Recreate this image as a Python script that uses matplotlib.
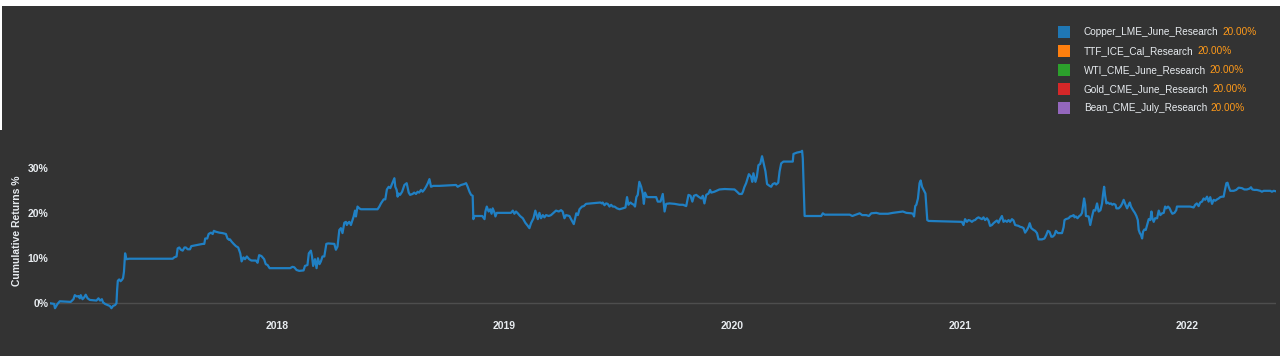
import matplotlib
matplotlib.use('Agg')
import matplotlib.pyplot as plt
import matplotlib.dates as mdates
from matplotlib.patches import Rectangle
import pandas as pd

# cumulative returns (x in decimal years, y in %)
years = [
    2017.001, 2017.019, 2017.023, 2017.034, 2017.044, 2017.092, 2017.104, 2017.110, 2017.119, 2017.126,
    2017.132, 2017.136, 2017.144, 2017.151, 2017.158, 2017.166, 2017.176, 2017.205, 2017.214, 2017.221,
    2017.229, 2017.234, 2017.243, 2017.254, 2017.264, 2017.271, 2017.278, 2017.287, 2017.293, 2017.296,
    2017.299, 2017.305, 2017.311, 2017.317, 2017.322, 2017.326, 2017.331, 2017.337, 2017.349, 2017.540,
    2017.547, 2017.557, 2017.562, 2017.569, 2017.576, 2017.584, 2017.592, 2017.598, 2017.606, 2017.616,
    2017.622, 2017.672, 2017.679, 2017.683, 2017.692, 2017.698, 2017.708, 2017.716, 2017.721, 2017.730,
    2017.745, 2017.759, 2017.774, 2017.781, 2017.788, 2017.792, 2017.799, 2017.808, 2017.818, 2017.828,
    2017.837, 2017.843, 2017.851, 2017.858, 2017.866, 2017.876, 2017.886, 2017.906, 2017.913, 2017.920,
    2017.930, 2017.942, 2017.949, 2017.957, 2017.966, 2018.057, 2018.067, 2018.075, 2018.085, 2018.097,
    2018.116, 2018.122, 2018.133, 2018.139, 2018.148, 2018.153, 2018.158, 2018.166, 2018.173, 2018.179,
    2018.186, 2018.192, 2018.199, 2018.207, 2018.216, 2018.224, 2018.251, 2018.258, 2018.265, 2018.273,
    2018.280, 2018.287, 2018.295, 2018.302, 2018.306, 2018.312, 2018.317, 2018.324, 2018.336, 2018.342,
    2018.346, 2018.353, 2018.361, 2018.368, 2018.441, 2018.449, 2018.456, 2018.468, 2018.475, 2018.482,
    2018.490, 2018.497, 2018.507, 2018.515, 2018.519, 2018.525, 2018.529, 2018.534, 2018.540, 2018.549,
    2018.559, 2018.569, 2018.578, 2018.584, 2018.595, 2018.602, 2018.610, 2018.617, 2018.624, 2018.632,
    2018.639, 2018.647, 2018.654, 2018.662, 2018.669, 2018.676, 2018.686, 2018.698, 2018.713, 2018.786,
    2018.793, 2018.808, 2018.822, 2018.830, 2018.837, 2018.845, 2018.852, 2018.859, 2018.862, 2018.867,
    2018.877, 2018.901, 2018.911, 2018.915, 2018.921, 2018.929, 2018.936, 2018.942, 2018.947, 2018.955,
    2018.959, 2018.965, 2019.028, 2019.036, 2019.043, 2019.050, 2019.058, 2019.068, 2019.080, 2019.091,
    2019.102, 2019.109, 2019.116, 2019.127, 2019.135, 2019.141, 2019.146, 2019.153, 2019.160, 2019.168,
    2019.175, 2019.182, 2019.194, 2019.204, 2019.215, 2019.226, 2019.238, 2019.248, 2019.255, 2019.263,
    2019.270, 2019.285, 2019.292, 2019.304, 2019.315, 2019.322, 2019.329, 2019.340, 2019.348, 2019.358,
    2019.380, 2019.421, 2019.427, 2019.431, 2019.439, 2019.446, 2019.453, 2019.461, 2019.468, 2019.475,
    2019.483, 2019.494, 2019.505, 2019.519, 2019.531, 2019.538, 2019.544, 2019.553, 2019.560, 2019.568,
    2019.573, 2019.579, 2019.585, 2019.592, 2019.600, 2019.607, 2019.612, 2019.617, 2019.626, 2019.644,
    2019.666, 2019.673, 2019.685, 2019.695, 2019.703, 2019.710, 2019.725, 2019.747, 2019.769, 2019.784,
    2019.798, 2019.808, 2019.817, 2019.825, 2019.832, 2019.842, 2019.852, 2019.864, 2019.871, 2019.878,
    2019.886, 2019.896, 2019.903, 2019.908, 2019.922, 2019.944, 2019.967, 2020.011, 2020.022, 2020.032,
    2020.043, 2020.048, 2020.054, 2020.062, 2020.074, 2020.084, 2020.089, 2020.094, 2020.103, 2020.109,
    2020.116, 2020.124, 2020.132, 2020.138, 2020.147, 2020.154, 2020.165, 2020.172, 2020.179, 2020.188,
    2020.194, 2020.203, 2020.209, 2020.216, 2020.226, 2020.267, 2020.270, 2020.285, 2020.304, 2020.308,
    2020.311, 2020.319, 2020.392, 2020.399, 2020.407, 2020.517, 2020.529, 2020.539, 2020.561, 2020.572,
    2020.590, 2020.601, 2020.612, 2020.634, 2020.649, 2020.685, 2020.707, 2020.751, 2020.766, 2020.788,
    2020.795, 2020.800, 2020.805, 2020.810, 2020.817, 2020.824, 2020.829, 2020.835, 2020.844, 2020.850,
    2020.858, 2020.864, 2021.008, 2021.015, 2021.022, 2021.030, 2021.037, 2021.044, 2021.052, 2021.059,
    2021.066, 2021.074, 2021.081, 2021.088, 2021.096, 2021.103, 2021.110, 2021.118, 2021.125, 2021.132,
    2021.140, 2021.147, 2021.154, 2021.162, 2021.169, 2021.176, 2021.184, 2021.191, 2021.198, 2021.206,
    2021.213, 2021.220, 2021.228, 2021.235, 2021.242, 2021.250, 2021.257, 2021.264, 2021.272, 2021.279,
    2021.286, 2021.294, 2021.301, 2021.306, 2021.313, 2021.323, 2021.330, 2021.338, 2021.345, 2021.360,
    2021.371, 2021.379, 2021.386, 2021.393, 2021.401, 2021.407, 2021.415, 2021.421, 2021.430, 2021.448,
    2021.455, 2021.459, 2021.465, 2021.477, 2021.484, 2021.492, 2021.499, 2021.503, 2021.509, 2021.516,
    2021.524, 2021.530, 2021.536, 2021.540, 2021.545, 2021.550, 2021.553, 2021.565, 2021.572, 2021.580,
    2021.587, 2021.594, 2021.602, 2021.609, 2021.617, 2021.624, 2021.628, 2021.633, 2021.637, 2021.643,
    2021.649, 2021.657, 2021.663, 2021.669, 2021.675, 2021.683, 2021.687, 2021.697, 2021.705, 2021.712,
    2021.719, 2021.727, 2021.734, 2021.741, 2021.746, 2021.751, 2021.760, 2021.768, 2021.775, 2021.781,
    2021.785, 2021.790, 2021.795, 2021.800, 2021.804, 2021.810, 2021.816, 2021.822, 2021.829, 2021.836,
    2021.841, 2021.845, 2021.851, 2021.857, 2021.866, 2021.873, 2021.880, 2021.888, 2021.895, 2021.901,
    2021.907, 2021.914, 2021.921, 2021.927, 2021.933, 2021.942, 2021.950, 2021.953, 2021.975, 2022.012,
    2022.027, 2022.034, 2022.041, 2022.049, 2022.056, 2022.064, 2022.071, 2022.078, 2022.086, 2022.093,
    2022.100, 2022.108, 2022.115, 2022.122, 2022.130, 2022.137, 2022.144, 2022.152, 2022.159, 2022.163,
    2022.171, 2022.176, 2022.181, 2022.188, 2022.203, 2022.214, 2022.225, 2022.239, 2022.250, 2022.261,
    2022.273, 2022.279, 2022.285, 2022.294, 2022.305, 2022.320, 2022.327, 2022.335, 2022.349, 2022.364,
    2022.371, 2022.379, 2022.389,
]
returns = [
    0.0, -0.15, -1.1, -0.15, 0.44, 0.3, 0.9, 1.8, 1.5, 1.6,
    1.1, 1.8, 0.9, 1.3, 1.9, 1.1, 0.74, 0.6, 1.1, 0.6,
    0.9, 0.2, -0.15, -0.4, -0.6, -1.1, -0.6, -0.4, 0.0, 3.0,
    5.0, 5.3, 4.9, 5.2, 5.6, 7.0, 11.1, 9.8, 9.9, 9.9,
    10.2, 10.4, 12.2, 12.4, 11.9, 11.7, 12.4, 12.4, 12.0, 12.0,
    12.7, 13.2, 13.2, 14.4, 14.4, 15.4, 15.7, 15.4, 16.1, 15.9,
    15.7, 15.6, 15.4, 14.4, 14.1, 14.2, 13.7, 13.2, 12.7, 12.4,
    11.1, 9.3, 10.2, 9.8, 10.4, 9.8, 9.5, 9.5, 9.0, 10.7,
    10.5, 9.8, 8.7, 8.5, 7.8, 7.8, 8.1, 8.0, 7.4, 7.2,
    7.3, 8.3, 8.5, 11.1, 11.7, 10.4, 8.3, 9.8, 7.8, 10.0,
    8.7, 9.3, 10.4, 10.4, 13.2, 13.3, 13.2, 11.9, 12.6, 16.3,
    16.7, 15.6, 17.9, 18.1, 17.4, 17.9, 18.1, 17.4, 19.3, 20.6,
    19.3, 21.5, 21.1, 20.9, 20.9, 21.5, 22.2, 23.1, 23.1, 25.3,
    25.9, 25.6, 26.8, 27.8, 25.9, 25.2, 23.7, 24.4, 24.1, 24.8,
    26.3, 26.7, 24.6, 24.1, 24.3, 24.6, 24.3, 24.8, 24.6, 25.2,
    24.8, 25.3, 25.9, 26.7, 27.6, 25.9, 26.1, 26.1, 26.1, 26.3,
    25.9, 26.3, 26.5, 26.7, 25.9, 24.8, 24.1, 23.9, 18.7, 19.4,
    19.4, 19.4, 18.7, 20.4, 21.5, 20.4, 20.9, 19.9, 21.1, 20.1,
    19.3, 20.1, 20.1, 20.6, 19.9, 20.4, 20.0, 19.4, 18.9, 17.9,
    17.2, 16.7, 17.8, 18.9, 20.6, 19.6, 18.7, 20.1, 18.9, 19.6,
    19.1, 19.6, 19.4, 19.6, 20.1, 20.6, 20.4, 20.7, 20.4, 18.9,
    19.6, 19.4, 18.7, 17.6, 20.0, 19.6, 20.9, 21.5, 21.6, 22.1,
    22.2, 22.4, 22.2, 22.4, 21.8, 22.2, 22.1, 21.5, 21.9, 21.5,
    21.5, 21.1, 20.9, 21.1, 21.3, 23.6, 21.9, 22.4, 22.1, 21.9,
    21.5, 23.6, 24.1, 27.0, 25.9, 24.4, 22.1, 24.6, 23.6, 23.6,
    23.6, 22.6, 22.6, 24.3, 20.4, 22.1, 22.2, 22.1, 21.9, 21.9,
    21.6, 24.1, 23.9, 22.6, 23.9, 24.1, 23.7, 23.3, 23.9, 22.2,
    24.1, 24.4, 25.2, 24.6, 24.8, 25.3, 25.4, 25.3, 24.8, 24.3,
    24.3, 24.8, 25.8, 26.7, 28.7, 28.1, 27.0, 28.9, 27.0, 28.1,
    30.7, 31.0, 32.7, 31.3, 29.3, 26.5, 26.1, 25.9, 26.5, 26.7,
    26.4, 26.8, 29.3, 31.1, 31.5, 31.5, 33.2, 33.5, 33.7, 33.9,
    32.2, 19.4, 19.4, 20.0, 19.7, 19.7, 19.4, 19.6, 20.0, 19.6,
    19.6, 19.4, 20.0, 20.1, 19.9, 19.9, 20.1, 20.4, 20.1, 20.0,
    19.9, 19.3, 21.6, 21.9, 23.3, 26.7, 27.3, 25.9, 25.0, 24.4,
    18.5, 18.3, 18.1, 17.4, 18.7, 18.1, 18.5, 18.4, 18.1, 18.4,
    18.5, 18.9, 19.1, 18.9, 18.7, 19.1, 18.5, 18.9, 18.4, 17.2,
    17.4, 17.8, 18.1, 18.4, 17.9, 18.7, 19.4, 18.1, 18.4, 18.1,
    18.5, 18.1, 18.7, 18.4, 17.4, 17.3, 17.2, 17.0, 16.9, 16.7,
    15.7, 16.3, 17.0, 17.8, 16.7, 16.3, 16.1, 15.6, 14.2, 14.2,
    14.4, 15.2, 16.1, 15.9, 14.8, 14.8, 15.2, 16.1, 15.6, 15.6,
    16.9, 18.5, 18.7, 18.9, 19.3, 19.4, 19.6, 19.1, 19.3, 18.9,
    19.4, 19.6, 20.1, 21.5, 23.3, 21.9, 19.4, 19.3, 17.4, 19.3,
    20.7, 20.6, 22.2, 20.4, 20.7, 22.2, 24.1, 25.9, 24.1, 22.2,
    22.4, 22.1, 22.2, 21.9, 22.1, 21.9, 21.1, 21.1, 21.5, 22.1,
    23.0, 21.9, 21.1, 21.9, 22.4, 21.5, 20.7, 20.1, 19.4, 18.5,
    16.3, 15.6, 15.2, 14.4, 15.9, 16.4, 16.3, 17.4, 18.7, 18.5,
    20.4, 18.9, 18.1, 18.9, 18.9, 20.6, 19.6, 20.0, 20.1, 21.5,
    21.1, 21.5, 21.1, 20.4, 19.9, 20.1, 20.7, 21.5, 21.5, 21.5,
    21.3, 21.9, 22.2, 21.6, 22.4, 22.6, 23.3, 23.0, 23.7, 22.6,
    23.6, 22.1, 23.0, 22.8, 23.1, 23.3, 23.6, 23.7, 23.7, 24.8,
    26.7, 26.8, 25.9, 25.0, 25.0, 25.2, 25.7, 25.6, 25.3, 25.3,
    25.5, 25.8, 25.3, 25.2, 25.2, 25.0, 24.8, 25.0, 25.0, 25.0,
    24.8, 25.0, 24.9,
]

legend_names = ['Copper_LME_June_Research', 'TTF_ICE_Cal_Research', 'WTI_CME_June_Research',
                'Gold_CME_June_Research', 'Bean_CME_July_Research']
legend_weights = ['20.00%', '20.00%', '20.00%', '20.00%', '20.00%']
legend_colors = ['#1f77b4', '#ff7f0e', '#2ca02c', '#d62728', '#9467bd']
ytick_values = [0, 10, 20, 30]
ytick_labels = ['0%', '10%', '20%', '30%']

bg = '#333333'
txt = '#e8ecf0'
W, H = 1280, 356

plt.rcParams['font.family'] = ['Liberation Sans', 'DejaVu Sans']


def to_date(y):
    yr = int(y)
    return pd.Timestamp(yr, 1, 1) + pd.Timedelta(days=(y - yr) * 365.25)


dates = [to_date(y) for y in years]

fig = plt.figure(figsize=(W / 100, H / 100), dpi=100, facecolor=bg)

# page artefacts: white strip on top and on the far left
fig.add_artist(Rectangle((0, 1 - 6 / H), 1, 6 / H, transform=fig.transFigure, color='white', lw=0))
fig.add_artist(Rectangle((0, 1 - 130 / H), 1.5 / W, 130 / H, transform=fig.transFigure, color='white', lw=0))

ax = fig.add_axes([50 / W, (H - 310) / H, 1226 / W, 170 / H])
ax.set_facecolor(bg)
ax.axhline(0, color='#4e4e4e', lw=1, zorder=1)
ax.plot(dates, returns, color='#2080c4', lw=1.6, zorder=3)

ax.set_xlim(dates[0], dates[-1])
ax.set_ylim(-1.5, 36.3)
for s in ax.spines.values():
    s.set_visible(False)
ax.set_yticks(ytick_values)
ax.set_yticklabels(ytick_labels)
ax.xaxis.set_major_locator(mdates.YearLocator())
ax.xaxis.set_major_formatter(mdates.DateFormatter('%Y'))
ax.tick_params(axis='both', length=0, colors=txt, labelsize=7.5)
ax.tick_params(axis='y', pad=1)
ax.tick_params(axis='x', pad=8)
for lab in ax.get_xticklabels() + ax.get_yticklabels():
    lab.set_fontweight('bold')

fig.text(17 / W, 1 - 231 / H, 'Cumulative Returns %', rotation=90, color=txt, fontsize=7.5,
         fontweight='bold', ha='center', va='center')

# legend in the top right corner
rows = [32, 51, 70, 89, 108]
for name, wgt, c, py in zip(legend_names, legend_weights, legend_colors, rows):
    fig.add_artist(Rectangle((1058 / W, 1 - (py + 6) / H), 12 / W, 12 / H,
                             transform=fig.transFigure, color=c, lw=0))
    t = fig.text(1084 / W, 1 - py / H, name, color=txt, fontsize=7.2, va='center')
    ax.annotate(wgt, xy=(1, 0.5), xycoords=t, xytext=(2.5, 0), textcoords='offset points',
                va='center', ha='left', color='#ff9a1a', fontsize=7.2, annotation_clip=False)

fig.savefig('out.png', dpi=100, facecolor=bg)
